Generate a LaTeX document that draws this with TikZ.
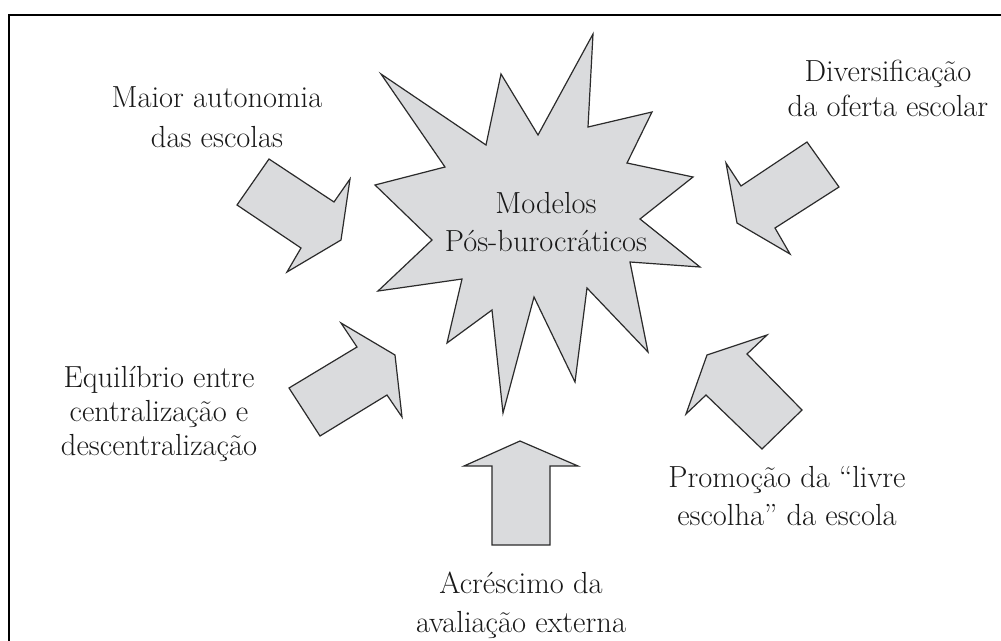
\documentclass[tikz,border=0pt]{standalone}
\usepackage{fontspec}
\setmainfont{Latin Modern Roman}
\definecolor{shapefill}{HTML}{DADBDD}
\definecolor{shapeline}{HTML}{2B2B2B}
\newcommand{\wtxt}[1]{\begin{tabular}[t]{@{}c@{}}#1\end{tabular}}
\begin{document}
\begin{tikzpicture}[x=1pt,y=-1pt,
  blob/.style={fill=shapefill,draw=shapeline,line width=1.2pt,line join=miter,miter limit=20},
  txt/.style={inner sep=0pt,anchor=base,text=black!90,font=\fontsize{30.5}{#1}\selectfont},
  frameline/.style={draw=black,line width=2pt}]
\useasboundingbox (0,0) rectangle (1001,640);
\fill[white] (0,0) rectangle (1001,640);
% frame
\draw[frameline] (9,641) -- (9,15) -- (1002,15);
% star
\draw[blob] (593,34) -- (588,127) -- (652,112) -- (627,163) -- (693,177) -- (640,219)
  -- (700,267) -- (630,262) -- (648,352) -- (587,288) -- (575,382) -- (534,297)
  -- (503,413) -- (492,310) -- (447,343) -- (462,279) -- (378,291) -- (432,240)
  -- (375,185) -- (445,167) -- (381,74) -- (486,145) -- (501,74) -- (538,135) -- cycle;
% arrows
\draw[blob] (269,159) -- (334,202) -- (350,179) -- (341,240) -- (287,272) -- (301,248) -- (237,205) -- cycle;
\draw[blob] (807,142) -- (839,187) -- (775,228) -- (790,254) -- (737,223) -- (726,163) -- (741,186) -- cycle;
\draw[blob] (289,388) -- (357,347) -- (341,323) -- (395,355) -- (402,417) -- (387,395) -- (320,436) -- cycle;
\draw[blob] (520,441) -- (578,466) -- (550,466) -- (550,545) -- (492,545) -- (492,466) -- (464,466) -- cycle;
\draw[blob] (707,355) -- (767,335) -- (747,354) -- (802,410) -- (762,449) -- (706,395) -- (686,414) -- cycle;
% texts
\node[txt=38] (center) at (546,213) {\wtxt{Modelos\\Pós-burocráticos}};
\node[txt=40] (maior) at (217,107) {\wtxt{Maior autonomia\\das escolas}};
\node[txt=35] (divers) at (888,81) {\wtxt{Diversificação\\da oferta escolar}};
\node[txt=34] (equil) at (159,387) {\wtxt{Equilíbrio entre\\centralização e\\descentralização}};
\node[txt=38] (promo) at (787,487) {\wtxt{Promoção da “livre\\escolha” da escola}};
\node[txt=39] (acres) at (521,593) {\wtxt{Acréscimo da\\avaliação externa}};
\end{tikzpicture}
\end{document}
